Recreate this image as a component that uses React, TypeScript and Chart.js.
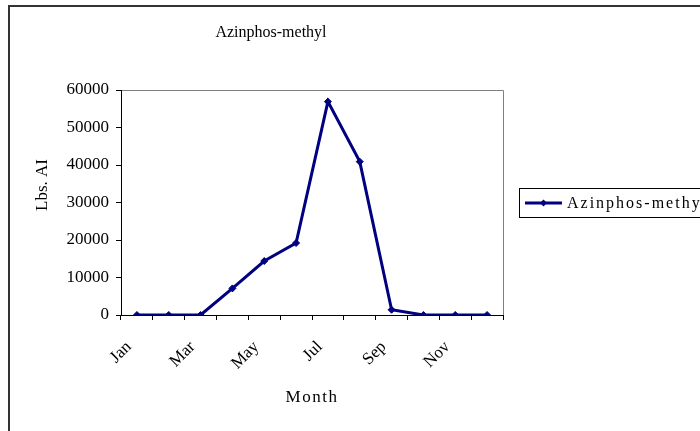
import React, { useEffect, useRef } from "react";
import { Chart, registerables } from "chart.js";

Chart.register(...registerables);

const months = ["Jan", "Feb", "Mar", "Apr", "May", "Jun", "Jul", "Aug", "Sep", "Oct", "Nov", "Dec"];
const azinphosValues = [0, 0, 0, 7100, 14400, 19200, 56900, 40900, 1400, 0, 0, 0];
const seriesName = "Azinphos-methyl";
const chartTitle = "Azinphos-methyl";
const yAxisTitle = "Lbs. AI";
const xAxisTitle = "Month";
const yMin = 0;
const yMax = 60000;
const yStep = 10000;

const FONT = "'Liberation Serif', 'Times New Roman', serif";
const NAVY = "#000080";

const decorPlugin = {
  id: "decor",
  beforeDraw(chart: any) {
    const ctx = chart.ctx;
    const { left, right, top, bottom } = chart.chartArea;
    ctx.save();
    ctx.fillStyle = "#ffffff";
    ctx.fillRect(0, 0, chart.width, chart.height);
    // outer frame
    ctx.strokeStyle = "#333333";
    ctx.lineWidth = 2;
    ctx.strokeRect(9, 6, 800, 600);
    // grey plot border (top & right)
    ctx.strokeStyle = "#808080";
    ctx.lineWidth = 1;
    ctx.beginPath();
    ctx.moveTo(left, top + 0.5);
    ctx.lineTo(right + 0.5, top + 0.5);
    ctx.lineTo(right + 0.5, bottom);
    ctx.stroke();
    ctx.restore();
  },
  afterDraw(chart: any) {
    const ctx = chart.ctx;
    const { left, right } = chart.chartArea;
    ctx.save();
    ctx.fillStyle = "#000000";
    // chart title
    ctx.font = `16px ${FONT}`;
    ctx.textAlign = "center";
    ctx.textBaseline = "middle";
    ctx.fillText(chartTitle, 271, 33);
    // x axis title
    ctx.font = `17px ${FONT}`;
    (ctx as any).letterSpacing = "1.5px";
    ctx.fillText(xAxisTitle, (left + right) / 2, 398);
    (ctx as any).letterSpacing = "0px";
    // y axis title
    ctx.save();
    ctx.translate(43, 185);
    ctx.rotate(-Math.PI / 2);
    ctx.font = `17px ${FONT}`;
    ctx.fillText(yAxisTitle, 0, 0);
    ctx.restore();
    // legend
    ctx.strokeStyle = "#000000";
    ctx.lineWidth = 1;
    ctx.strokeRect(519.5, 188.5, 300, 29);
    const ly = 203;
    ctx.strokeStyle = NAVY;
    ctx.lineWidth = 3;
    ctx.beginPath();
    ctx.moveTo(525, ly);
    ctx.lineTo(562, ly);
    ctx.stroke();
    ctx.fillStyle = NAVY;
    ctx.beginPath();
    ctx.moveTo(543.5, ly - 3.5);
    ctx.lineTo(547, ly);
    ctx.lineTo(543.5, ly + 3.5);
    ctx.lineTo(540, ly);
    ctx.closePath();
    ctx.fill();
    ctx.fillStyle = "#000000";
    ctx.font = `16px ${FONT}`;
    ctx.textAlign = "left";
    (ctx as any).letterSpacing = "2px";
    ctx.fillText(seriesName, 567, ly + 1);
    (ctx as any).letterSpacing = "0px";
    ctx.restore();
  },
};

export default function App() {
  const canvasRef = useRef<HTMLCanvasElement | null>(null);

  useEffect(() => {
    const canvas = canvasRef.current;
    if (!canvas) return;
    const chart = new Chart(canvas, {
      type: "line",
      data: {
        labels: months,
        datasets: [
          {
            label: seriesName,
            data: azinphosValues,
            borderColor: NAVY,
            backgroundColor: NAVY,
            borderWidth: 3,
            pointStyle: "rectRot",
            pointRadius: 3.5,
            pointBorderWidth: 1,
            pointBackgroundColor: NAVY,
            pointBorderColor: NAVY,
            tension: 0,
            fill: false,
          },
        ],
      },
      options: {
        responsive: false,
        animation: false,
        devicePixelRatio: 1,
        layout: { padding: { top: 90, right: 197, left: 0, bottom: 0 } },
        plugins: {
          legend: { display: false },
          title: { display: false },
          tooltip: { enabled: false },
        },
        scales: {
          x: {
            type: "category",
            offset: true,
            grid: {
              display: true,
              drawOnChartArea: false,
              drawTicks: true,
              tickLength: 5,
              color: "#000000",
              offset: true,
            },
            border: { display: true, color: "#000000", width: 1 },
            ticks: {
              autoSkip: false,
              minRotation: 45,
              maxRotation: 45,
              padding: 17,
              labelOffset: -8,
              color: "#000000",
              font: { family: FONT, size: 17 },
              callback: (_v: any, i: number) => (i % 2 === 0 ? months[i] : ""),
            },
            afterFit: (scale: any) => {
              scale.height = 116;
            },
          },
          y: {
            min: yMin,
            max: yMax,
            grid: {
              display: true,
              drawOnChartArea: false,
              drawTicks: true,
              tickLength: 5,
              color: "#000000",
            },
            border: { display: true, color: "#000000", width: 1 },
            ticks: {
              stepSize: yStep,
              padding: 7,
              color: "#000000",
              font: { family: FONT, size: 17 },
              callback: (v: any) => String(v),
            },
            afterFit: (scale: any) => {
              scale.width = 121;
            },
          },
        },
      },
      plugins: [decorPlugin],
    });
    return () => chart.destroy();
  }, []);

  return (
    <div
      style={{
        position: "fixed",
        left: 0,
        top: 0,
        width: 700,
        height: 431,
        overflow: "hidden",
        background: "#fff",
      }}
    >
      <canvas ref={canvasRef} width={700} height={431} style={{ width: 700, height: 431, display: "block" }} />
    </div>
  );
}
